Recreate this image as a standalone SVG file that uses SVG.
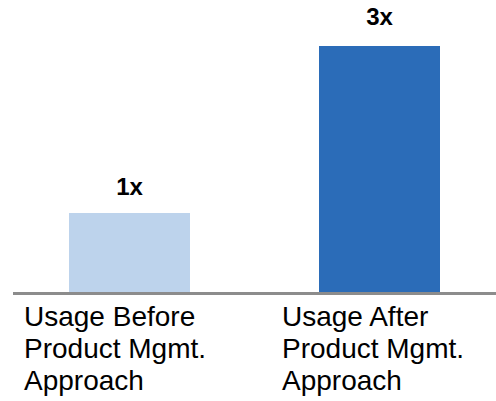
<svg xmlns="http://www.w3.org/2000/svg" width="496" height="401" viewBox="0 0 496 401">
  <style>
    .val { font-family: "Liberation Sans", Arial, sans-serif; font-size: 24px; font-weight: bold; fill: #000; text-anchor: middle; }
    .cat { font-family: "Liberation Sans", Arial, sans-serif; font-size: 28px; fill: #000; }
    .axis { stroke: #8c8c8c; stroke-width: 3; }
  </style>
  <rect width="496" height="401" fill="#ffffff"/>
  <g id="bar-before">
    <rect x="69" y="213" width="121" height="80" fill="#bdd3ec"/>
    <text class="val" x="129.5" y="195">1x</text>
  </g>
  <g id="bar-after">
    <rect x="319" y="46" width="121" height="247" fill="#2b6cb8"/>
    <text class="val" x="379.5" y="25">3x</text>
  </g>
  <g id="axis">
    <line class="axis" x1="13" y1="293.5" x2="496" y2="293.5"/>
  </g>
  <g id="label-before">
    <text class="cat" x="24" y="326">Usage Before</text>
    <text class="cat" x="24" y="358">Product Mgmt.</text>
    <text class="cat" x="24" y="390">Approach</text>
  </g>
  <g id="label-after">
    <text class="cat" x="282" y="326">Usage After</text>
    <text class="cat" x="282" y="358">Product Mgmt.</text>
    <text class="cat" x="282" y="390">Approach</text>
  </g>
</svg>
